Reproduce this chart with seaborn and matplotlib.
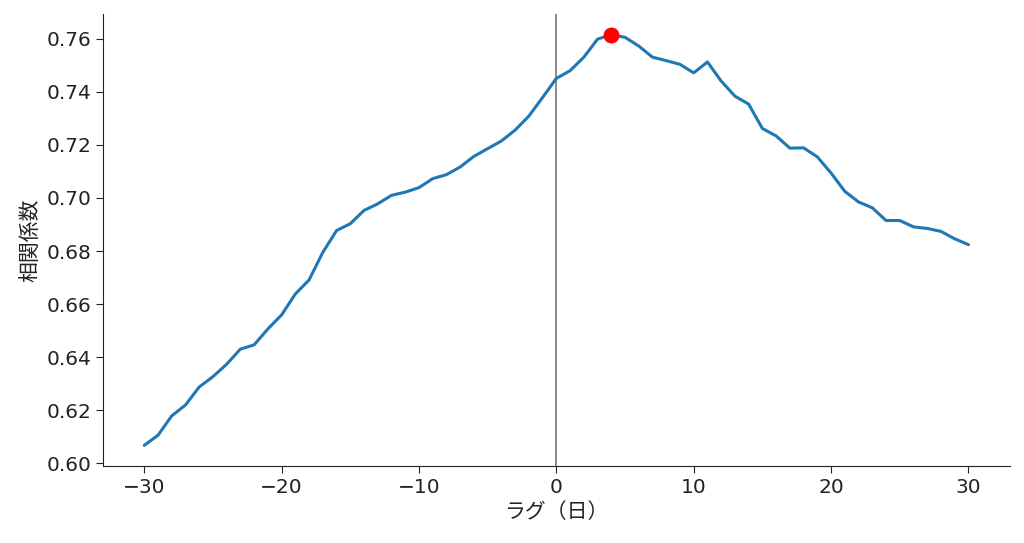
import numpy as np
import pandas as pd
import matplotlib
matplotlib.use("Agg")
import matplotlib.pyplot as plt
import seaborn as sns

# lag (days) and correlation coefficient
lags = list(range(-30, 31))
corr = [0.6067, 0.6105, 0.6178, 0.6219, 0.6287, 0.6326, 0.6373, 0.6430, 0.6446, 0.6506,
        0.6559, 0.6638, 0.6691, 0.6795, 0.6877, 0.6903, 0.6953, 0.6978, 0.7010, 0.7022,
        0.7039, 0.7073, 0.7088, 0.7117, 0.7157, 0.7186, 0.7215, 0.7256, 0.7309, 0.7379,
        0.7451, 0.7480, 0.7531, 0.7599, 0.7616, 0.7606, 0.7573, 0.7531, 0.7518, 0.7504,
        0.7472, 0.7513, 0.7441, 0.7384, 0.7354, 0.7262, 0.7234, 0.7188, 0.7189, 0.7155,
        0.7094, 0.7025, 0.6985, 0.6963, 0.6915, 0.6915, 0.6891, 0.6885, 0.6874, 0.6846,
        0.6824]

df = pd.DataFrame({"lag": lags, "corr": corr})

sns.set_style("ticks")
plt.rcParams['font.family'] = ['DejaVu Sans', 'Noto Sans CJK JP']
plt.rcParams['font.size'] = 14

fig, ax = plt.subplots(figsize=(10.24, 5.43), dpi=100)
fig.subplots_adjust(left=0.1006, right=0.986, top=0.974, bottom=0.142)

sns.lineplot(data=df, x="lag", y="corr", ax=ax, color="#1f77b4", linewidth=2.2)
ax.axvline(0, color="gray", linewidth=1.3, zorder=1)

#marks the peak of the correlation
best = df.loc[df["corr"].idxmax()]
ax.scatter(best["lag"], best["corr"], color="red", s=110, zorder=3)

ax.set_xlabel("ラグ（日）", fontsize=15, color="#222222")
ax.set_ylabel("相関係数", fontsize=15, color="#222222")
ax.set_xticks([-30, -20, -10, 0, 10, 20, 30])
ax.set_yticks(np.arange(0.60, 0.761, 0.02))
ax.yaxis.set_major_formatter(matplotlib.ticker.FormatStrFormatter('%.2f'))
ax.tick_params(labelsize=14.5, length=5, colors="#222222")
for s in ax.spines.values():
    s.set_color("#222222")
sns.despine(ax=ax)

fig.savefig("out.png", dpi=100)
